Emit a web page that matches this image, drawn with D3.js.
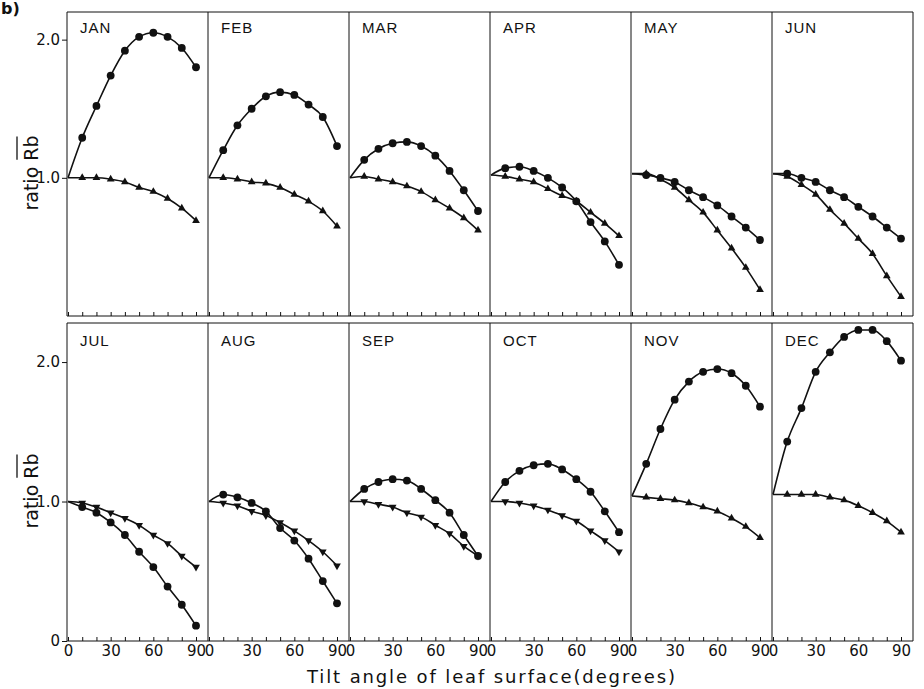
<!DOCTYPE html>
<html>
<head>
<meta charset="utf-8">
<script src="https://cdn.jsdelivr.net/npm/d3@7"></script>
<style>
  body { margin: 0; background: #fff; }
  svg { display: block; }
</style>
</head>
<body>
<div id="chartContainer"></div>
<script>
const monthNames = ["JAN", "FEB", "MAR", "APR", "MAY", "JUN", "JUL", "AUG", "SEP", "OCT", "NOV", "DEC"];
const tiltAngles = [0, 10, 20, 30, 40, 50, 60, 70, 80, 90];

// ratio Rb, filled circle curves (one row per month)
const circleRatio = [
  [1.00, 1.29, 1.52, 1.74, 1.92, 2.02, 2.05, 2.02, 1.94, 1.80],
  [1.00, 1.20, 1.38, 1.50, 1.59, 1.62, 1.60, 1.53, 1.44, 1.23],
  [1.00, 1.13, 1.21, 1.25, 1.26, 1.23, 1.16, 1.05, 0.91, 0.76],
  [1.02, 1.07, 1.08, 1.05, 1.00, 0.93, 0.83, 0.68, 0.54, 0.37],
  [1.03, 1.02, 1.00, 0.97, 0.91, 0.86, 0.80, 0.72, 0.64, 0.55],
  [1.03, 1.03, 1.00, 0.97, 0.91, 0.86, 0.79, 0.72, 0.64, 0.56],
  [1.00, 0.96, 0.92, 0.85, 0.76, 0.64, 0.53, 0.39, 0.26, 0.11],
  [1.00, 1.05, 1.03, 0.99, 0.93, 0.81, 0.72, 0.59, 0.43, 0.27],
  [1.00, 1.09, 1.14, 1.16, 1.15, 1.09, 1.01, 0.92, 0.76, 0.61],
  [1.00, 1.14, 1.22, 1.26, 1.27, 1.23, 1.16, 1.07, 0.93, 0.78],
  [1.04, 1.27, 1.52, 1.73, 1.86, 1.93, 1.95, 1.92, 1.83, 1.68],
  [1.05, 1.43, 1.67, 1.93, 2.07, 2.18, 2.23, 2.23, 2.15, 2.01]
];

// ratio Rb, triangle curves
const triangleRatio = [
  [1.00, 1.00, 1.00, 0.99, 0.97, 0.93, 0.90, 0.85, 0.78, 0.69],
  [1.00, 1.00, 0.99, 0.97, 0.96, 0.93, 0.88, 0.83, 0.76, 0.65],
  [1.00, 1.01, 0.99, 0.97, 0.94, 0.90, 0.84, 0.78, 0.71, 0.62],
  [1.02, 1.01, 0.99, 0.97, 0.92, 0.87, 0.83, 0.75, 0.67, 0.58],
  [1.03, 1.03, 0.99, 0.93, 0.84, 0.75, 0.62, 0.49, 0.35, 0.19],
  [1.03, 1.01, 0.95, 0.88, 0.77, 0.67, 0.56, 0.45, 0.29, 0.14],
  [1.00, 0.99, 0.96, 0.92, 0.88, 0.83, 0.76, 0.70, 0.61, 0.53],
  [1.00, 0.99, 0.97, 0.93, 0.90, 0.85, 0.79, 0.72, 0.64, 0.54],
  [1.00, 1.00, 0.98, 0.96, 0.92, 0.89, 0.83, 0.77, 0.68, 0.61],
  [1.00, 1.00, 0.99, 0.97, 0.94, 0.90, 0.86, 0.79, 0.72, 0.64],
  [1.04, 1.03, 1.02, 1.01, 0.99, 0.96, 0.93, 0.88, 0.82, 0.74],
  [1.05, 1.05, 1.05, 1.05, 1.03, 1.01, 0.97, 0.92, 0.86, 0.78]
];
const triangleDown = [false, false, false, false, false, false, true, true, true, true, false, false];

const xTickLabels = [0, 30, 60, 90];
const yTickLabelsTop = [1, 2];
const yTickLabelsBottom = [0, 1, 2];

const chartWidth = 924;
const chartHeight = 689;
const plotLeft = 67;
const plotRight = 913;
const panelWidth = (plotRight - plotLeft) / 6;

const rows = [
  { top: 12, bottom: 316, max: 2.2, labelY: 21, yTicks: yTickLabelsTop, titleY: 173 },
  { top: 323, bottom: 641, max: 2.28, labelY: 23, yTicks: yTickLabelsBottom, titleY: 491 }
];

const svg = d3.select("#chartContainer").append("svg")
  .attr("width", chartWidth)
  .attr("height", chartHeight);

const ink = "#111";
const tickFont = "DejaVu Sans, sans-serif";

// panel letter in the corner
svg.append("text")
  .attr("x", 1)
  .attr("y", 14)
  .style("font-family", tickFont)
  .style("font-weight", "bold")
  .style("font-size", "16px")
  .style("fill", ink)
  .text("b)");

rows.forEach((row, r) => {
  const yScale = d3.scaleLinear()
    .domain([0, row.max])
    .range([row.bottom, row.top]);

  // frame of the row
  const frame = svg.append("g")
    .style("stroke", ink)
    .style("stroke-width", 1)
    .style("fill", "none");
  frame.append("line")
    .attr("x1", plotLeft).attr("x2", plotRight)
    .attr("y1", row.top).attr("y2", row.top);
  frame.append("line")
    .attr("x1", plotLeft).attr("x2", plotRight)
    .attr("y1", row.bottom).attr("y2", row.bottom);
  d3.range(7).forEach(c => {
    frame.append("line")
      .attr("x1", plotLeft + c * panelWidth).attr("x2", plotLeft + c * panelWidth)
      .attr("y1", row.top).attr("y2", row.bottom);
  });

  // y axis on the first panel
  const yAxis = svg.append("g")
    .attr("transform", `translate(${plotLeft}, 0)`)
    .call(d3.axisLeft(yScale)
      .tickValues(row.yTicks)
      .tickSize(5)
      .tickPadding(2)
      .tickFormat(d => d === 0 ? "0" : d.toFixed(1)));
  yAxis.select(".domain").remove();
  yAxis.selectAll("line").style("stroke", ink);
  yAxis.selectAll("text")
    .style("font-family", tickFont)
    .style("font-size", "15px")
    .style("fill", ink);

  // y axis title: ratio Rb (with bar over Rb)
  const titleG = svg.append("g")
    .attr("transform", `translate(38, ${row.titleY}) rotate(-90)`);
  const title = titleG.append("text")
    .attr("text-anchor", "middle")
    .style("font-family", tickFont)
    .style("font-size", "19px")
    .style("fill", ink)
    .text("ratio Rb");
  const rExt = title.node().getExtentOfChar(6);
  const bExt = title.node().getExtentOfChar(7);
  titleG.append("line")
    .attr("x1", rExt.x + 1)
    .attr("x2", bExt.x + bExt.width - 1)
    .attr("y1", rExt.y - 3)
    .attr("y2", rExt.y - 3)
    .style("stroke", ink)
    .style("stroke-width", 1.3);

  d3.range(6).forEach(c => {
    const m = r * 6 + c;
    const px = plotLeft + c * panelWidth;

    const xScale = d3.scaleLinear()
      .domain([0, 90])
      .range([px + 1, px + 129]);

    // bottom ticks every 10 degrees
    const xAxis = svg.append("g")
      .attr("transform", `translate(0, ${row.bottom})`)
      .call(d3.axisBottom(xScale)
        .tickValues(tiltAngles)
        .tickSize(-4)
        .tickPadding(4)
        .tickFormat(d => (r === 1 && xTickLabels.includes(d)) ? d : ""));
    xAxis.select(".domain").remove();
    xAxis.selectAll("line").style("stroke", ink);
    xAxis.selectAll("text")
      .style("font-family", tickFont)
      .style("font-size", "15px")
      .style("fill", ink);

    // month label
    svg.append("text")
      .attr("x", px + 13)
      .attr("y", row.top + row.labelY)
      .style("font-family", "Liberation Sans, Arial, sans-serif")
      .style("font-size", "15px")
      .style("letter-spacing", "1px")
      .style("fill", ink)
      .text(monthNames[m]);

    const line = d3.line()
      .x((d, i) => xScale(tiltAngles[i]))
      .y(d => yScale(d))
      .curve(d3.curveMonotoneX);

    // triangle series
    svg.append("path")
      .datum(triangleRatio[m])
      .attr("d", line)
      .style("fill", "none")
      .style("stroke", ink)
      .style("stroke-width", 1.6);

    svg.selectAll(`.tri-${m}`)
      .data(triangleRatio[m].slice(1))
      .enter().append("path")
      .attr("class", `tri-${m}`)
      .attr("d", d3.symbol().type(d3.symbolTriangle).size(26))
      .attr("transform", (d, i) =>
        `translate(${xScale(tiltAngles[i + 1])}, ${yScale(d)})` + (triangleDown[m] ? " rotate(180)" : ""))
      .style("fill", ink);

    // circle series
    svg.append("path")
      .datum(circleRatio[m])
      .attr("d", line)
      .style("fill", "none")
      .style("stroke", ink)
      .style("stroke-width", 1.6);

    svg.selectAll(`.dot-${m}`)
      .data(circleRatio[m].slice(1))
      .enter().append("circle")
      .attr("class", `dot-${m}`)
      .attr("cx", (d, i) => xScale(tiltAngles[i + 1]))
      .attr("cy", d => yScale(d))
      .attr("r", 3.9)
      .style("fill", ink);
  });
});

// x axis title
svg.append("text")
  .attr("x", 307)
  .attr("y", 683)
  .attr("textLength", 368)
  .attr("lengthAdjust", "spacing")
  .style("font-family", tickFont)
  .style("font-size", "18px")
  .style("fill", ink)
  .text("Tilt angle of leaf surface(degrees)");
</script>
</body>
</html>
